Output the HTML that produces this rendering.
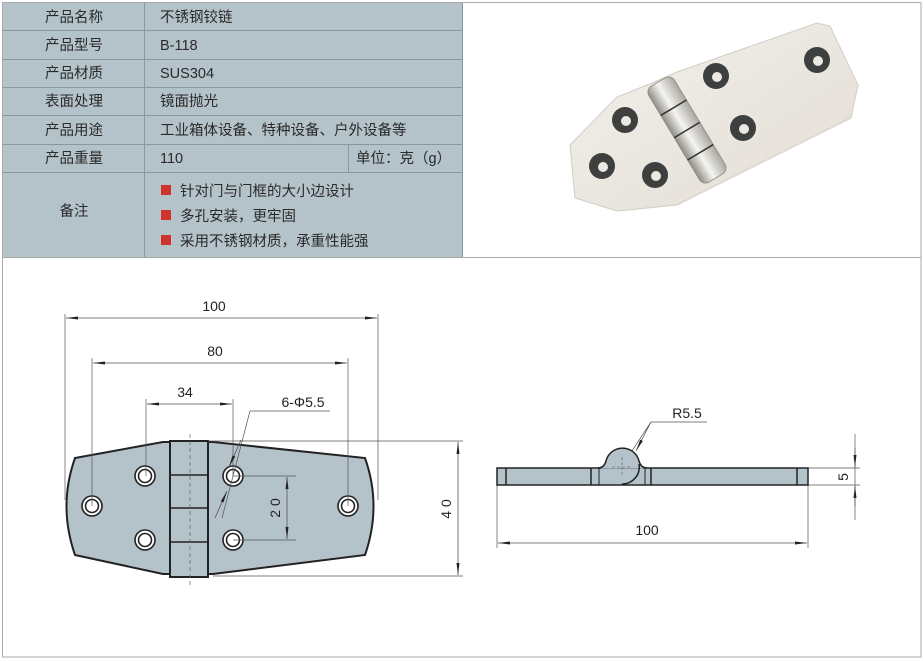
<!DOCTYPE html>
<html><head><meta charset="utf-8"><style>
html,body{margin:0;padding:0;background:#fff;width:924px;height:661px;overflow:hidden}
svg{display:block}
text{font-family:"Liberation Sans","Noto Sans CJK SC",sans-serif}
</style></head><body>
<svg width="924" height="661" viewBox="0 0 924 661" xmlns="http://www.w3.org/2000/svg">
<defs>
<marker id="a" viewBox="0 0 12 4" refX="12" refY="2" markerWidth="12" markerHeight="4" orient="auto-start-reverse" markerUnits="userSpaceOnUse"><path d="M0,0.5 L12,2 L0,3.5z" fill="#222"/></marker>
<linearGradient id="m" x1="0" y1="0" x2="1" y2="1"><stop offset="0" stop-color="#f3f1ec"/><stop offset="1" stop-color="#e2ddd4"/></linearGradient>
<linearGradient id="k" x1="0" y1="0" x2="1" y2="0"><stop offset="0" stop-color="#8f8d86"/><stop offset="0.45" stop-color="#f6f5f1"/><stop offset="1" stop-color="#a9a7a0"/></linearGradient>
</defs>
<rect x="2.5" y="2.5" width="918.5" height="654.5" fill="#fff" stroke="#a9a9a9" stroke-width="1"/>
<line x1="2" y1="257.5" x2="921" y2="257.5" stroke="#a9a9a9"/>
<rect x="3" y="3" width="459" height="254" fill="#b4c3ca"/>
<g stroke="#8a979d" stroke-width="1">
<line x1="3" y1="30.5" x2="462" y2="30.5"/><line x1="3" y1="59.5" x2="462" y2="59.5"/>
<line x1="3" y1="87.5" x2="462" y2="87.5"/><line x1="3" y1="115.5" x2="462" y2="115.5"/>
<line x1="3" y1="144.5" x2="462" y2="144.5"/><line x1="3" y1="172.5" x2="462" y2="172.5"/>
<line x1="144.5" y1="3" x2="144.5" y2="257"/><line x1="348.5" y1="144" x2="348.5" y2="172"/>
<line x1="462.5" y1="3" x2="462.5" y2="257"/>
</g>
<g font-size="14.5" fill="#2a2a2a">
<text x="74" y="22" text-anchor="middle">产品名称</text>
<text x="74" y="50" text-anchor="middle">产品型号</text>
<text x="74" y="78" text-anchor="middle">产品材质</text>
<text x="74" y="106" text-anchor="middle">表面处理</text>
<text x="74" y="135" text-anchor="middle">产品用途</text>
<text x="74" y="163" text-anchor="middle">产品重量</text>
<text x="74" y="216" text-anchor="middle">备注</text>
<text x="160" y="22">不锈钢铰链</text>
<text x="160" y="50">B-118</text>
<text x="160" y="78">SUS304</text>
<text x="160" y="106">镜面抛光</text>
<text x="160" y="135">工业箱体设备、特种设备、户外设备等</text>
<text x="160" y="163">110</text>
<text x="356" y="163">单位：克（g）</text>
<text x="180" y="196">针对门与门框的大小边设计</text>
<text x="180" y="221">多孔安装，更牢固</text>
<text x="180" y="246">采用不锈钢材质，承重性能强</text>
</g>
<rect x="161" y="185" width="10" height="10" fill="#d0332b"/>
<rect x="161" y="210" width="10" height="10" fill="#d0332b"/>
<rect x="161" y="235" width="10" height="10" fill="#d0332b"/>
<!-- photo -->
<path d="M570,145 L617,97 L652,83 L677,72 L817,23 L830,26 L858,85 L851,118 L677,205 L617,211 L575,198 Z" fill="url(#m)" stroke="#d2cdc4" stroke-width="1"/>
<g transform="translate(687,130) rotate(-31)"><rect x="-15" y="-56" width="30" height="112" rx="7" fill="url(#k)" stroke="#8c8a84" stroke-width="0.8"/>
<line x1="-15" y1="-26" x2="15" y2="-26" stroke="#333" stroke-width="1.5"/><line x1="-15" y1="0" x2="15" y2="0" stroke="#333" stroke-width="1.5"/><line x1="-15" y1="26" x2="15" y2="26" stroke="#333" stroke-width="1.5"/></g>
<g fill="#3d403e"><circle cx="625" cy="120" r="13"/><circle cx="602" cy="166" r="13"/><circle cx="655" cy="175" r="13"/><circle cx="716" cy="76" r="13"/><circle cx="743" cy="128" r="13"/><circle cx="817" cy="60" r="13"/></g>
<g fill="#ece8e1"><circle cx="626" cy="121" r="5"/><circle cx="603" cy="167" r="5"/><circle cx="656" cy="176" r="5"/><circle cx="717" cy="77" r="5"/><circle cx="744" cy="129" r="5"/><circle cx="818" cy="61" r="5"/></g>
<!-- front view -->
<path d="M75,458 L163,442 L213,442 L365,458 Q382,506 365,555 L213,574 L163,574 L75,555 Q58,506 75,458 Z" fill="#b4c3ca" stroke="#222" stroke-width="2"/>
<rect x="170" y="441" width="38" height="136" fill="#b4c3ca" stroke="#222" stroke-width="2"/>
<g stroke="#222" stroke-width="1.5"><line x1="170" y1="475" x2="208" y2="475"/><line x1="170" y1="508" x2="208" y2="508"/><line x1="170" y1="542" x2="208" y2="542"/></g>
<line x1="190" y1="434" x2="190" y2="585" stroke="#666" stroke-width="0.7" stroke-dasharray="4,3"/>
<g fill="#fff" stroke="#222" stroke-width="1.6">
<circle cx="92" cy="506" r="10"/><circle cx="145" cy="476" r="10"/><circle cx="145" cy="540" r="10"/><circle cx="233" cy="476" r="10"/><circle cx="233" cy="540" r="10"/><circle cx="348" cy="506" r="10"/>
<circle cx="92" cy="506" r="6.5"/><circle cx="145" cy="476" r="6.5"/><circle cx="145" cy="540" r="6.5"/><circle cx="233" cy="476" r="6.5"/><circle cx="233" cy="540" r="6.5"/><circle cx="348" cy="506" r="6.5"/>
</g>
<g stroke="#555" stroke-width="0.7" fill="none">
<line x1="65" y1="314" x2="65" y2="500"/><line x1="378" y1="314" x2="378" y2="500"/>
<line x1="92" y1="358" x2="92" y2="506"/><line x1="348" y1="358" x2="348" y2="506"/>
<line x1="146" y1="399" x2="146" y2="476"/><line x1="233" y1="399" x2="233" y2="476"/>
<line x1="208" y1="441" x2="463" y2="441"/><line x1="213" y1="576" x2="463" y2="576"/>
<line x1="233" y1="476" x2="296" y2="476"/><line x1="233" y1="540" x2="296" y2="540"/>
<line x1="250" y1="411" x2="330" y2="411"/><line x1="250" y1="411" x2="222" y2="518"/>
<line x1="651" y1="422" x2="707" y2="422"/><line x1="651" y1="422" x2="622" y2="466"/>
<line x1="808" y1="468" x2="860" y2="468"/><line x1="808" y1="485" x2="860" y2="485"/>
<line x1="855" y1="434" x2="855" y2="520"/>
<line x1="497" y1="485" x2="497" y2="548"/><line x1="808" y1="485" x2="808" y2="548"/>
</g>
<g stroke="#555" stroke-width="0.8" marker-start="url(#a)" marker-end="url(#a)">
<line x1="66" y1="318" x2="377" y2="318"/><line x1="93" y1="363" x2="347" y2="363"/>
<line x1="147" y1="404" x2="232" y2="404"/><line x1="458" y1="442" x2="458" y2="575"/>
<line x1="287" y1="477" x2="287" y2="539"/><line x1="498" y1="543" x2="807" y2="543"/>
</g>
<g stroke="#555" stroke-width="0.8" marker-end="url(#a)">
<line x1="241" y1="440" x2="229" y2="467"/><line x1="215" y1="518" x2="227" y2="491"/>
<line x1="651" y1="422" x2="636" y2="451"/>
<line x1="855" y1="448" x2="855" y2="467"/><line x1="855" y1="506" x2="855" y2="486"/>
</g>
<g font-size="14" fill="#222">
<text x="214" y="311" text-anchor="middle">100</text>
<text x="215" y="356" text-anchor="middle">80</text>
<text x="185" y="397" text-anchor="middle">34</text>
<text x="303" y="407" text-anchor="middle">6-Φ5.5</text>
<text x="687" y="418" text-anchor="middle">R5.5</text>
<text x="647" y="535" text-anchor="middle">100</text>
<text transform="translate(451,509) rotate(-90)" text-anchor="middle">4 0</text>
<text transform="translate(280,508) rotate(-90)" text-anchor="middle">2 0</text>
<text transform="translate(848,477) rotate(-90)" text-anchor="middle">5</text>
</g>
<!-- side view -->
<rect x="497" y="468" width="311" height="17" fill="#b4c3ca" stroke="#222" stroke-width="1.5"/>
<path d="M598,468.5 Q604,468 606,461 A17,17 0 0 1 639,461 Q641,468 647,468.5 Z" fill="#b4c3ca" stroke="none"/>
<path d="M598,468 Q604,468 606,461 A17,17 0 0 1 639,461 Q641,468 647,468" fill="none" stroke="#222" stroke-width="1.5"/>
<path d="M639,464 A17,17 0 0 1 622,484" fill="none" stroke="#222" stroke-width="1.5"/>
<g stroke="#222" stroke-width="1.5"><line x1="506" y1="468" x2="506" y2="485"/><line x1="797" y1="468" x2="797" y2="485"/><line x1="591" y1="468" x2="591" y2="485"/><line x1="651" y1="468" x2="651" y2="485"/></g>
<path d="M599,468 L599,485 M645,468 L645,485" stroke="#222" stroke-width="1"/>
<g stroke="#555" stroke-width="0.6" stroke-dasharray="3,2"><line x1="612" y1="467" x2="632" y2="467"/><line x1="622" y1="457" x2="622" y2="477"/></g>
</svg>
</body></html>
